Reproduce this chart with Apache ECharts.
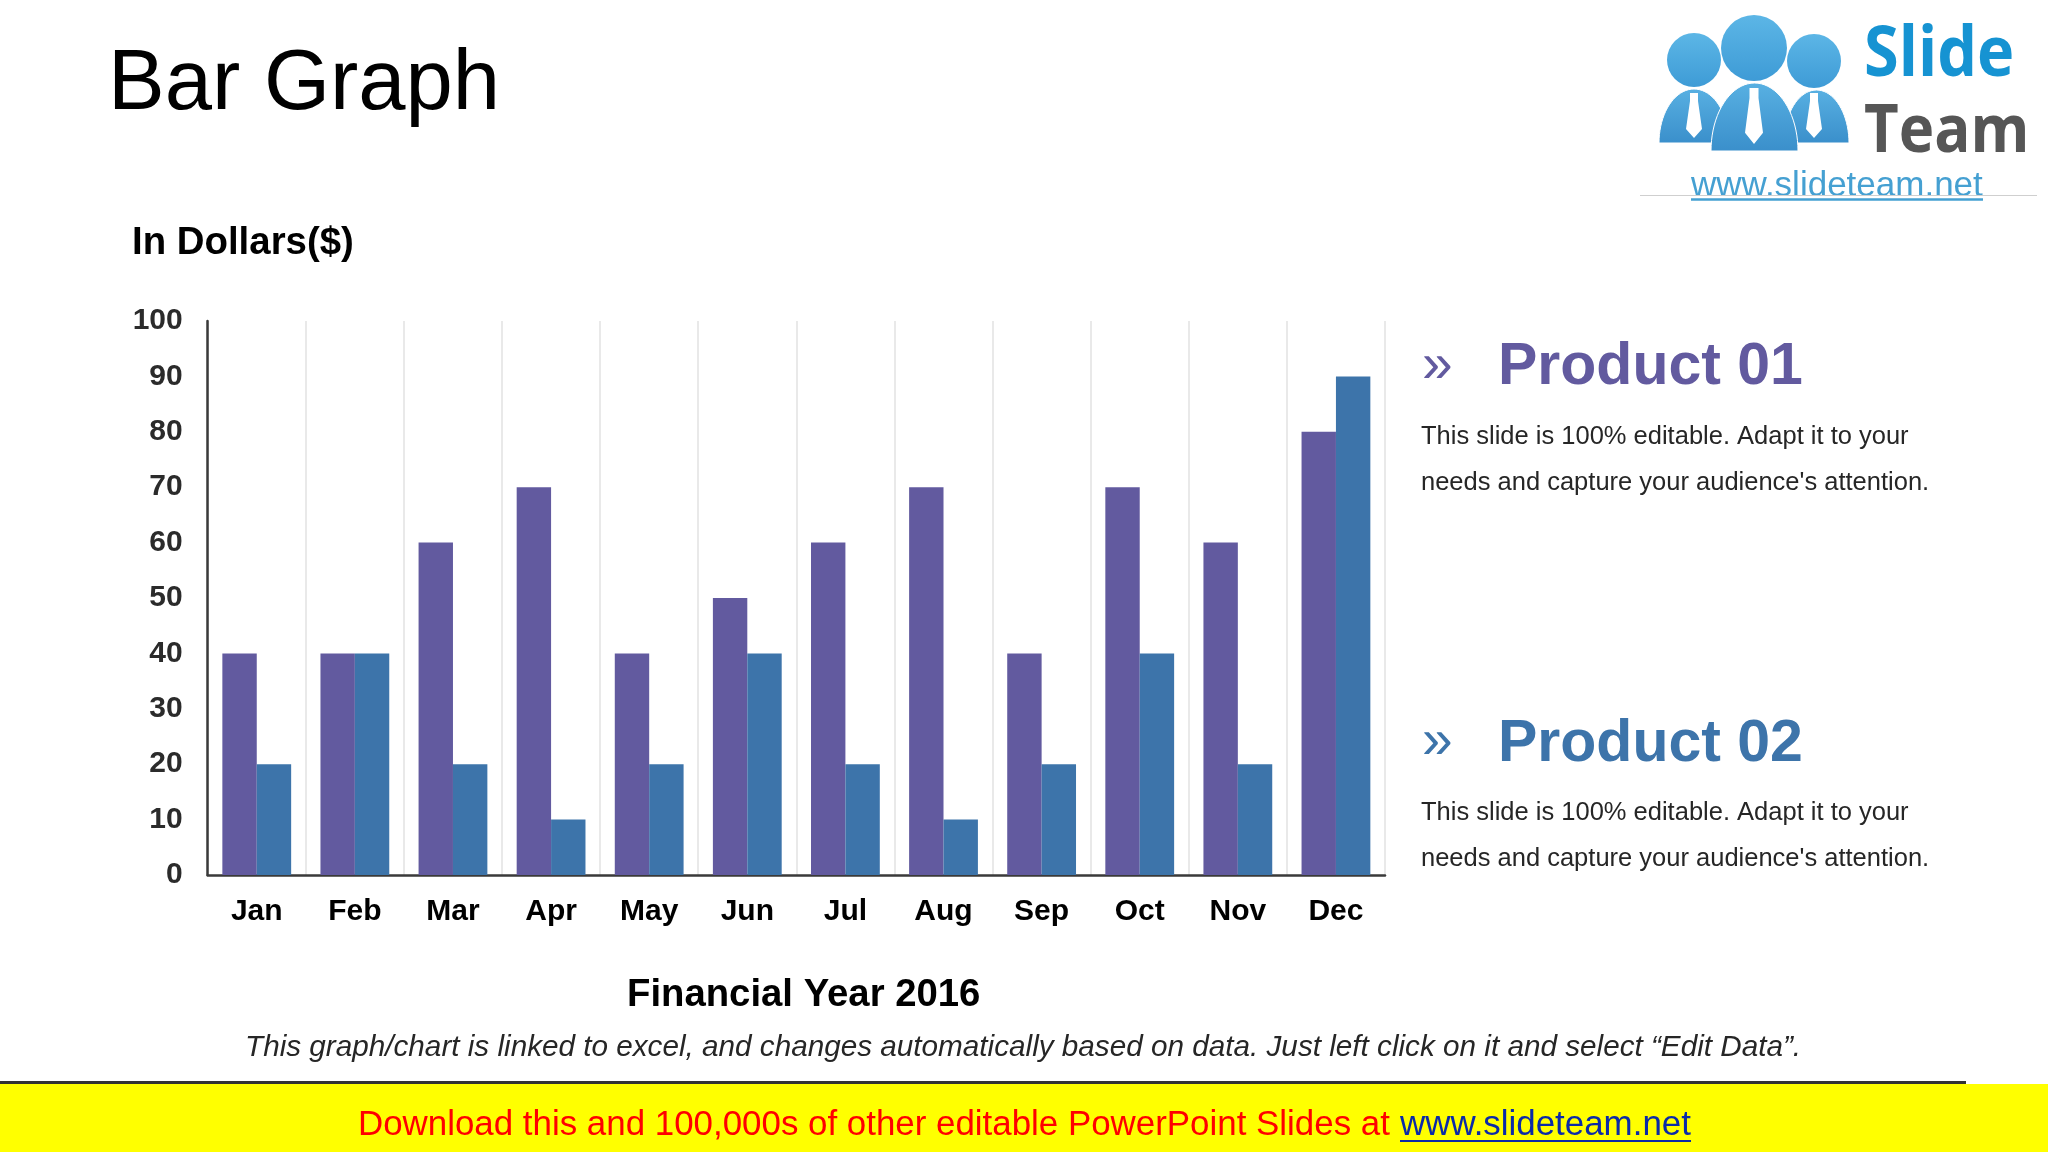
<!DOCTYPE html>
<html>
<head>
<meta charset="utf-8">
<title>Bar Graph</title>
<style>
  html, body { margin: 0; padding: 0; background: #fff; }
  #chart { width: 2048px; height: 1152px; }
</style>
<script src="https://cdn.jsdelivr.net/npm/echarts@6/dist/echarts.min.js"></script>
</head>
<body>
<div id="chart"></div>
<script>
// chart data
const months = ['Jan', 'Feb', 'Mar', 'Apr', 'May', 'Jun', 'Jul', 'Aug', 'Sep', 'Oct', 'Nov', 'Dec'];
const product01 = [40, 40, 60, 70, 40, 50, 60, 70, 40, 70, 60, 80];
const product02 = [20, 40, 20, 10, 20, 40, 20, 10, 20, 40, 20, 90];
const seriesNames = ['Product 01', 'Product 02'];

const PURPLE = '#625a9f';
const BLUE = '#3d74aa';
const ARIAL = '"Liberation Sans", Arial, sans-serif';
const bodyLine1 = 'This slide is 100% editable. Adapt it to your';
const bodyLine2 = "needs and capture your audience's attention.";

// small helper for the slide texts
function label(x, y, text, size, color, extra) {
    return {
        type: 'text',
        x: x,
        y: y,
        silent: true,
        style: Object.assign({
            text: text,
            fontFamily: ARIAL,
            fontSize: size,
            fill: color,
            verticalAlign: 'middle'
        }, extra || {})
    };
}

function vGrad(top, bottom) {
    return { type: 'linear', x: 0, y: 0, x2: 0, y2: 1, colorStops: [{ offset: 0, color: top }, { offset: 1, color: bottom }] };
}

// dome outline for the logo figures
function dome(x1, x2, top, bottom) {
    const pts = [];
    const cx = (x1 + x2) / 2, rx = (x2 - x1) / 2, ry = bottom - top;
    for (let i = 0; i <= 40; i++) {
        const a = Math.PI - Math.PI * i / 40;
        pts.push([cx + rx * Math.cos(a), bottom - ry * Math.sin(a)]);
    }
    return pts;
}

function tie(cx, top, bottom, w) {
    const h = bottom - top;
    return [
        [cx - w * 0.5, top], [cx + w * 0.5, top], [cx + w * 0.5, top + h * 0.18], [cx + w, top + h * 0.8],
        [cx, bottom], [cx - w, top + h * 0.8], [cx - w * 0.5, top + h * 0.18]
    ];
}

// logo built out of simple shapes
function logo() {
    const items = [];
    const head = vGrad('#5cb6e6', '#3e9bd6');
    const body = vGrad('#58b0e2', '#3a8fcb');
    const heads = [[1694, 60, 27], [1814, 61, 27], [1754, 48, 33]];
    const bodies = [dome(1659, 1729, 89, 143), dome(1784, 1849, 90, 143), dome(1711, 1798, 83, 151)];
    const ties = [tie(1694, 93, 138, 8), tie(1814, 93, 138, 8), tie(1754, 88, 144, 9)];
    heads.forEach(function (h) {
        items.push({ type: 'circle', silent: true, shape: { cx: h[0], cy: h[1], r: h[2] }, style: { fill: head } });
    });
    bodies.forEach(function (p) {
        items.push({ type: 'polygon', silent: true, shape: { points: p }, style: { fill: body, stroke: '#ffffff', lineWidth: 1 } });
    });
    ties.forEach(function (p) {
        items.push({ type: 'polygon', silent: true, shape: { points: p }, style: { fill: '#ffffff' } });
    });
    const logoFont = { fontFamily: '"Open Sans", sans-serif', fontWeight: 'bold' };
    items.push(Object.assign(label(1864, 56, 'Slide', 63, '#1693d2', logoFont), { scaleY: 1.1, originY: 0 }));
    items.push(Object.assign(label(1864, 133, 'Team', 60, '#565656', logoFont), { scaleY: 1.1, originY: 0 }));
    items.push(label(1691, 186, 'www.slideteam.net', 35, '#45a0d2'));
    items.push({ type: 'line', silent: true, shape: { x1: 1640, y1: 195.5, x2: 2037, y2: 195.5 }, style: { stroke: '#cfcfcf', lineWidth: 1 } });
    items.push({ type: 'line', silent: true, shape: { x1: 1691, y1: 199.5, x2: 1983, y2: 199.5 }, style: { stroke: '#45a0d2', lineWidth: 2.5 } });
    return items;
}

const chart = echarts.init(document.getElementById('chart'));

const option = {
    backgroundColor: '#ffffff',
    animation: false,
    grid: { left: 207.7, right: 663, top: 321, bottom: 277 },
    xAxis: {
        type: 'category',
        data: months,
        axisTick: { show: false },
        axisLine: { lineStyle: { color: '#3a3a3a', width: 2.5 } },
        axisLabel: { color: '#000000', fontFamily: ARIAL, fontWeight: 'bold', fontSize: 30, margin: 22 },
        splitLine: { show: true, lineStyle: { color: '#e2e2e2', width: 1.5 } }
    },
    yAxis: {
        type: 'value',
        min: 0,
        max: 100,
        interval: 10,
        axisLine: { show: true, lineStyle: { color: '#3a3a3a', width: 2.5 } },
        axisTick: { show: false },
        splitLine: { show: false },
        axisLabel: { color: '#2b2b2b', fontFamily: ARIAL, fontWeight: 'bold', fontSize: 30, margin: 25, padding: [7, 0, 0, 0] }
    },
    series: [
        { name: seriesNames[0], type: 'bar', data: product01, barWidth: 34.4, barGap: 0, itemStyle: { color: PURPLE } },
        { name: seriesNames[1], type: 'bar', data: product02, barWidth: 34.4, barGap: 0, itemStyle: { color: BLUE } }
    ],
    graphic: [
        label(108, 86, 'Bar Graph', 85, '#000000'),
        label(132, 243, 'In Dollars($)', 38.4, '#000000', { fontWeight: 'bold' }),
        label(627, 995, 'Financial Year 2016', 38.3, '#000000', { fontWeight: 'bold' }),
        label(245, 1048, 'This graph/chart is linked to excel, and changes automatically based on data. Just left click on it and select \u201CEdit Data\u201D.', 29.7, '#262626', { fontStyle: 'italic' }),

        label(1422, 367, '\u00BB', 55, PURPLE),
        label(1498, 368, seriesNames[0], 59, PURPLE, { fontWeight: 'bold' }),
        label(1421, 437, bodyLine1, 25.5, '#262626'),
        label(1421, 483, bodyLine2, 25.5, '#262626'),

        label(1422, 743, '\u00BB', 55, BLUE),
        label(1498, 745, seriesNames[1], 59, BLUE, { fontWeight: 'bold' }),
        label(1421, 813, bodyLine1, 25.5, '#262626'),
        label(1421, 859, bodyLine2, 25.5, '#262626'),

        // footer banner
        { type: 'rect', silent: true, shape: { x: 0, y: 1084, width: 2048, height: 68 }, style: { fill: '#ffff00' } },
        { type: 'line', silent: true, shape: { x1: 0, y1: 1082.5, x2: 1966, y2: 1082.5 }, style: { stroke: '#333333', lineWidth: 3 } },
        label(358, 1125, 'Download this and 100,000s of other editable PowerPoint Slides at', 34.9, '#ff0000'),
        label(1400, 1125, 'www.slideteam.net', 34.9, '#0b2aa8'),
        { type: 'line', silent: true, shape: { x1: 1400, y1: 1141, x2: 1691, y2: 1141 }, style: { stroke: '#0b2aa8', lineWidth: 2 } }
    ].concat(logo())
};

chart.setOption(option);
</script>
</body>
</html>
